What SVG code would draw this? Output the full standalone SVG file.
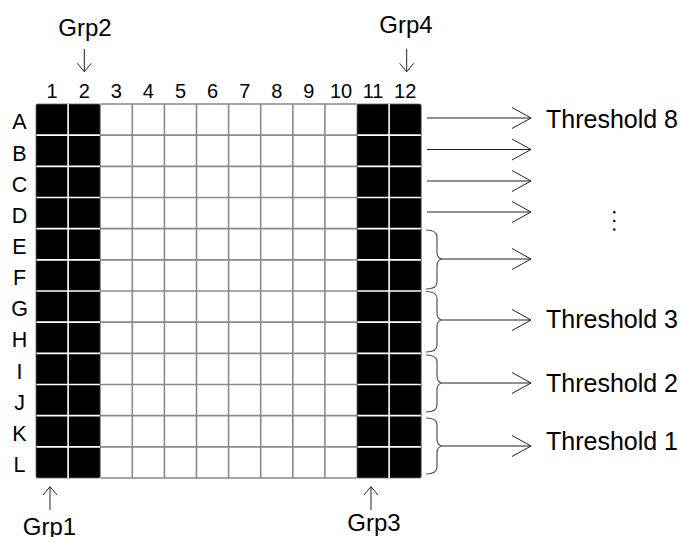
<svg xmlns="http://www.w3.org/2000/svg" width="682" height="537" viewBox="0 0 682 537">
<style>
text{font-family:"Liberation Sans",Arial,sans-serif;fill:#000}
.col{font-size:20px;text-anchor:middle}
.row{font-size:21.5px;text-anchor:middle}
.grp{font-size:24px;text-anchor:middle}
.thr{font-size:25px}
.gl{stroke:#8a8a8a;stroke-width:1.6;fill:none}
.wl{stroke:#fff;stroke-width:1.6;fill:none}
.ar{stroke:#222;stroke-width:1;fill:none}
.br{stroke:#555;stroke-width:1.2;fill:none}
</style>
<rect width="682" height="537" fill="#fff"/>
<g id="plate">
<path class="gl" d="M100.2 104H357M100.2 135.17H357M100.2 166.33H357M100.2 197.5H357M100.2 228.67H357M100.2 259.83H357M100.2 291H357M100.2 322.17H357M100.2 353.33H357M100.2 384.5H357M100.2 415.67H357M100.2 446.83H357M100.2 478H357"/>
<path class="gl" d="M132.3 104V478M164.4 104V478M196.5 104V478M228.6 104V478M260.7 104V478M292.8 104V478M324.9 104V478"/>
<rect x="36" y="104" width="64.2" height="374" fill="#000" stroke="#666" stroke-width="0.8" rx="1.5"/>
<rect x="357" y="104" width="64.2" height="374" fill="#000" stroke="#666" stroke-width="0.8" rx="1.5"/>
<path class="wl" d="M68.1 104V478M389.1 104V478"/>
<path class="wl" d="M36.5 135.17H100M36.5 166.33H100M36.5 197.5H100M36.5 228.67H100M36.5 259.83H100M36.5 291H100M36.5 322.17H100M36.5 353.33H100M36.5 384.5H100M36.5 415.67H100M36.5 446.83H100"/>
<path class="wl" d="M357.5 135.17H420.8M357.5 166.33H420.8M357.5 197.5H420.8M357.5 228.67H420.8M357.5 259.83H420.8M357.5 291H420.8M357.5 322.17H420.8M357.5 353.33H420.8M357.5 384.5H420.8M357.5 415.67H420.8M357.5 446.83H420.8"/>
</g>
<g id="col-labels">
<text class="col" x="52" y="97.5">1</text>
<text class="col" x="84.2" y="97.5">2</text>
<text class="col" x="116.3" y="97.5">3</text>
<text class="col" x="148.4" y="97.5">4</text>
<text class="col" x="180.5" y="97.5">5</text>
<text class="col" x="212.6" y="97.5">6</text>
<text class="col" x="244.7" y="97.5">7</text>
<text class="col" x="276.8" y="97.5">8</text>
<text class="col" x="308.9" y="97.5">9</text>
<text class="col" x="341" y="97.5">10</text>
<text class="col" x="373.1" y="97.5">11</text>
<text class="col" x="405.2" y="97.5">12</text>
</g>
<g id="row-labels">
<text class="row" x="19.5" y="129.3">A</text>
<text class="row" x="19.5" y="160.5">B</text>
<text class="row" x="19.5" y="191.6">C</text>
<text class="row" x="19.5" y="222.8">D</text>
<text class="row" x="19.5" y="254">E</text>
<text class="row" x="19.5" y="285.1">F</text>
<text class="row" x="19.5" y="316.3">G</text>
<text class="row" x="19.5" y="347.4">H</text>
<text class="row" x="19.5" y="378.6">I</text>
<text class="row" x="19.5" y="409.8">J</text>
<text class="row" x="19.5" y="440.9">K</text>
<text class="row" x="19.5" y="472.1">L</text>
</g>
<g id="grp1"><text class="grp" x="49.5" y="535">Grp1</text></g>
<g id="grp2"><text class="grp" x="85" y="36">Grp2</text></g>
<g id="grp3"><text class="grp" x="374" y="531">Grp3</text></g>
<g id="grp4"><text class="grp" x="406" y="33">Grp4</text></g>
<g id="thresholds">
<text class="thr" x="546" y="128.3">Threshold 8</text>
<text class="thr" x="546" y="328.3">Threshold 3</text>
<text class="thr" x="546" y="391.7">Threshold 2</text>
<text class="thr" x="546" y="450">Threshold 1</text>
<circle cx="614.3" cy="212.3" r="1.2" fill="#000"/>
<circle cx="614.3" cy="221" r="1.2" fill="#000"/>
<circle cx="614.3" cy="229.5" r="1.2" fill="#000"/>
</g>
<g id="connectors">
<path class="ar" d="M84.3 49V71.7M77.3 63.3L84.3 71.7L91.3 63.3"/>
<path class="ar" d="M406.7 49V71.7M399.7 63.3L406.7 71.7L413.7 63.3"/>
<path class="ar" d="M50 486.7V510M43 495L50 486.7L57 495"/>
<path class="ar" d="M371 486.7V510M364 495L371 486.7L378 495"/>
<path class="ar" d="M427 118H531M512 107.5L531 118L512 128.5"/>
<path class="ar" d="M427 149.5H531M512 139L531 149.5L512 160"/>
<path class="ar" d="M427 181H531M512 170.5L531 181L512 191.5"/>
<path class="ar" d="M427 212H531M512 201.5L531 212L512 222.5"/>
<path class="ar" d="M443 259H531M512 248.5L531 259L512 269.5"/>
<path class="ar" d="M443 320H531M512 309.5L531 320L512 330.5"/>
<path class="ar" d="M443 383H531M512 372.5L531 383L512 393.5"/>
<path class="ar" d="M443 446H531M512 435.5L531 446L512 456.5"/>
<path class="br" d="M426 230Q437 230 437 237V252Q437 259 443 259Q437 259 437 266V282Q437 289 426 289"/>
<path class="br" d="M426 291.5Q437 291.5 437 298.5V313Q437 320 443 320Q437 320 437 327V345Q437 352 426 352"/>
<path class="br" d="M426 355Q437 355 437 362V376Q437 383 443 383Q437 383 437 390V405Q437 412 426 412"/>
<path class="br" d="M426 418Q437 418 437 425V439Q437 446 443 446Q437 446 437 453V467Q437 474 426 474"/>
</g>
</svg>
